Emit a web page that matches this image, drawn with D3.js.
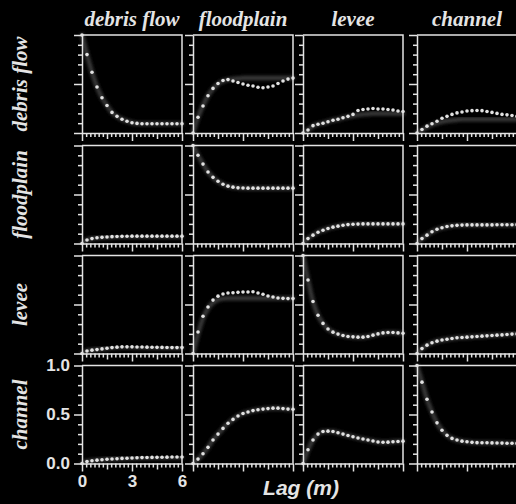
<!DOCTYPE html>
<html>
<head>
<meta charset="utf-8">
<script src="https://cdn.jsdelivr.net/npm/d3@7/dist/d3.min.js"></script>
<style>
    html, body { margin: 0; padding: 0; background: #000; }
    svg { display: block; }
</style>
</head>
<body>
<div class="container"></div>
<script>
const WIDTH = 516;
const HEIGHT = 504;
const PANEL_W = 100;
const PANEL_H = 98;
const COL_X = [82, 193, 303, 417];
const ROW_Y = [35, 145.5, 255.5, 365.5];
const INK = "#e4e4e4";

var facies = ["debris flow", "floodplain", "levee", "channel"];
var lags = [0, 0.3, 0.6, 0.9, 1.2, 1.5, 1.8, 2.1, 2.4, 2.7, 3.0, 3.3, 3.6, 3.9, 4.2, 4.5, 4.8, 5.1, 5.4, 5.7, 6.0];
var yMajor = [0, 0.5, 1];
var yMinor = [0.1, 0.2, 0.3, 0.4, 0.6, 0.7, 0.8, 0.9];
var xMajor = [0, 3, 6];
var xMedium = [1.5, 4.5];
var xMinor = [0.25, 0.5, 0.75, 1, 1.25, 1.75, 2, 2.25, 2.5, 2.75, 3.25, 3.5, 3.75, 4, 4.25, 4.75, 5, 5.25, 5.5, 5.75];

// rows = from facies, columns = to facies
var debrisDebris = [1.0, 0.80, 0.62, 0.47, 0.36, 0.28, 0.21, 0.17, 0.14, 0.12, 0.105, 0.098, 0.095, 0.095, 0.095, 0.095, 0.095, 0.095, 0.095, 0.095, 0.095];
var debrisFlood = [0, 0.16, 0.275, 0.38, 0.455, 0.505, 0.535, 0.545, 0.53, 0.515, 0.50, 0.487, 0.48, 0.467, 0.462, 0.47, 0.48, 0.505, 0.53, 0.55, 0.56];
var debrisLevee = [0, 0.03, 0.075, 0.09, 0.10, 0.115, 0.13, 0.14, 0.155, 0.17, 0.19, 0.23, 0.24, 0.245, 0.25, 0.245, 0.245, 0.24, 0.235, 0.225, 0.22];
var debrisChannel = [0, 0.035, 0.07, 0.095, 0.12, 0.15, 0.17, 0.19, 0.205, 0.215, 0.225, 0.228, 0.23, 0.228, 0.22, 0.21, 0.20, 0.19, 0.185, 0.178, 0.17];

var floodDebris = [0, 0.035, 0.05, 0.058, 0.063, 0.067, 0.07, 0.072, 0.073, 0.074, 0.075, 0.075, 0.075, 0.075, 0.075, 0.075, 0.075, 0.075, 0.075, 0.075, 0.075];
var floodFlood = [1.0, 0.90, 0.81, 0.73, 0.675, 0.635, 0.605, 0.585, 0.575, 0.568, 0.566, 0.565, 0.565, 0.565, 0.565, 0.565, 0.565, 0.565, 0.565, 0.565, 0.565];
var floodLevee = [0, 0.05, 0.085, 0.115, 0.135, 0.153, 0.167, 0.177, 0.186, 0.193, 0.197, 0.198, 0.2, 0.2, 0.2, 0.2, 0.2, 0.2, 0.2, 0.2, 0.2];
var floodChannel = [0, 0.05, 0.085, 0.12, 0.145, 0.16, 0.173, 0.18, 0.185, 0.188, 0.19, 0.19, 0.19, 0.19, 0.19, 0.19, 0.191, 0.191, 0.192, 0.192, 0.192];

var leveeDebris = [0, 0.025, 0.034, 0.04, 0.047, 0.054, 0.06, 0.065, 0.068, 0.068, 0.068, 0.067, 0.066, 0.065, 0.064, 0.063, 0.062, 0.061, 0.06, 0.06, 0.06];
var leveeFlood = [0, 0.22, 0.38, 0.475, 0.545, 0.585, 0.607, 0.617, 0.62, 0.624, 0.627, 0.628, 0.63, 0.618, 0.604, 0.587, 0.577, 0.567, 0.563, 0.56, 0.56];
var leveeLevee = [1.0, 0.75, 0.53, 0.39, 0.307, 0.25, 0.218, 0.198, 0.184, 0.174, 0.17, 0.167, 0.167, 0.174, 0.187, 0.20, 0.21, 0.214, 0.214, 0.21, 0.207];
var leveeChannel = [0, 0.05, 0.085, 0.11, 0.126, 0.137, 0.146, 0.153, 0.16, 0.164, 0.167, 0.17, 0.174, 0.177, 0.18, 0.184, 0.187, 0.19, 0.194, 0.198, 0.20];

var channelDebris = [0, 0.02, 0.028, 0.034, 0.039, 0.043, 0.046, 0.049, 0.052, 0.054, 0.056, 0.058, 0.06, 0.061, 0.062, 0.063, 0.064, 0.065, 0.066, 0.066, 0.067];
var channelFlood = [0, 0.045, 0.10, 0.165, 0.24, 0.30, 0.358, 0.41, 0.45, 0.485, 0.51, 0.525, 0.54, 0.548, 0.555, 0.56, 0.565, 0.565, 0.56, 0.555, 0.553];
var channelLevee = [0, 0.14, 0.24, 0.30, 0.327, 0.33, 0.327, 0.314, 0.30, 0.286, 0.273, 0.26, 0.25, 0.24, 0.23, 0.22, 0.217, 0.218, 0.222, 0.225, 0.228];
var channelChannel = [1.0, 0.83, 0.655, 0.525, 0.415, 0.34, 0.287, 0.256, 0.24, 0.228, 0.222, 0.216, 0.213, 0.212, 0.211, 0.21, 0.209, 0.208, 0.207, 0.206, 0.205];

// grey model curves, where they part from the dots
var bandDebrisFlood = [0, 0.16, 0.28, 0.38, 0.45, 0.50, 0.53, 0.545, 0.55, 0.555, 0.56, 0.56, 0.56, 0.56, 0.56, 0.56, 0.56, 0.56, 0.56, 0.56, 0.56];
var bandDebrisLevee = [0, 0.03, 0.07, 0.09, 0.10, 0.115, 0.13, 0.14, 0.155, 0.165, 0.175, 0.185, 0.19, 0.195, 0.2, 0.2, 0.2, 0.2, 0.2, 0.2, 0.2];
var bandDebrisChannel = [0, 0.03, 0.06, 0.085, 0.10, 0.115, 0.125, 0.13, 0.135, 0.14, 0.14, 0.14, 0.14, 0.14, 0.14, 0.14, 0.14, 0.14, 0.14, 0.14, 0.14];
var bandLeveeFlood = [0, 0.2, 0.36, 0.46, 0.52, 0.55, 0.56, 0.565, 0.565, 0.565, 0.565, 0.565, 0.565, 0.565, 0.565, 0.565, 0.565, 0.565, 0.565, 0.565, 0.565];

var dots = [
    [debrisDebris, debrisFlood, debrisLevee, debrisChannel],
    [floodDebris, floodFlood, floodLevee, floodChannel],
    [leveeDebris, leveeFlood, leveeLevee, leveeChannel],
    [channelDebris, channelFlood, channelLevee, channelChannel]
];
var bands = [
    [debrisDebris, bandDebrisFlood, bandDebrisLevee, bandDebrisChannel],
    [floodDebris, floodFlood, floodLevee, floodChannel],
    [leveeDebris, bandLeveeFlood, leveeLevee, leveeChannel],
    [channelDebris, channelFlood, channelLevee, channelChannel]
];

var translate = function (x, y) {
    return "translate(" + x + "," + y + ")";
};

var _xScale = d3.scaleLinear().domain([0, 6]).range([0, PANEL_W]);
var _yScale = d3.scaleLinear().domain([0, 1]).range([PANEL_H, 0]);

var line = d3.line()
    .x(function (d, k) { return _xScale(lags[k]); })
    .y(function (d) { return _yScale(d); })
    .curve(d3.curveMonotoneX);

function styleAxis(g) {
    g.attr("color", INK);
    g.selectAll("line, path").attr("stroke-width", 1.5);
    g.selectAll("text")
        .attr("font-family", "'Liberation Sans', Arial, sans-serif")
        .attr("font-weight", "bold")
        .attr("font-size", 17)
        .attr("fill", INK);
}

function drawAxes(panel, labelled) {
    var left = panel.append("g");
    left.call(d3.axisLeft(_yScale).tickValues(yMinor).tickSize(4).tickSizeOuter(0).tickFormat(""));
    left.append("g").call(d3.axisLeft(_yScale).tickValues(yMajor).tickSize(8).tickPadding(4)
        .tickFormat(labelled ? d3.format(".1f") : ""))
        .call(function (g) { g.select(".domain").remove(); });
    styleAxis(left);

    var bottom = panel.append("g").attr("transform", translate(0, PANEL_H));
    bottom.call(d3.axisBottom(_xScale).tickValues(xMinor).tickSize(4).tickSizeOuter(0).tickFormat(""));
    bottom.append("g").call(d3.axisBottom(_xScale).tickValues(xMedium).tickSize(6).tickFormat(""))
        .call(function (g) { g.select(".domain").remove(); });
    bottom.append("g").call(d3.axisBottom(_xScale).tickValues(xMajor).tickSize(8).tickPadding(3)
        .tickFormat(labelled ? d3.format("d") : ""))
        .call(function (g) { g.select(".domain").remove(); });
    styleAxis(bottom);

    // frame: top and right edges
    panel.append("path")
        .attr("d", "M" + _xScale(0) + "," + _yScale(1) + "H" + _xScale(6) + "V" + _yScale(0))
        .attr("fill", "none")
        .attr("stroke", INK)
        .attr("stroke-width", 1.5);
}

var loadChart = function () {
    var svg = d3.select(".container").append("svg")
        .attr("width", WIDTH)
        .attr("height", HEIGHT)
        .style("background", "#000");

    svg.append("defs").append("filter")
        .attr("id", "soft")
        .attr("x", "-10%").attr("y", "-10%").attr("width", "120%").attr("height", "120%")
        .append("feGaussianBlur").attr("stdDeviation", 1.4);

    var serif = "'Liberation Serif', 'Times New Roman', serif";

    // column titles
    svg.selectAll(".col-title")
        .data(facies)
        .enter().append("text")
        .attr("class", "col-title")
        .attr("x", function (d, j) { return COL_X[j] + PANEL_W / 2; })
        .attr("y", 26)
        .attr("text-anchor", "middle")
        .attr("font-family", serif)
        .attr("font-style", "italic")
        .attr("font-weight", "bold")
        .attr("font-size", 21)
        .attr("fill", INK)
        .text(function (d) { return d; });

    // row titles
    svg.selectAll(".row-title")
        .data(facies)
        .enter().append("text")
        .attr("class", "row-title")
        .attr("transform", function (d, i) {
            return translate(27, ROW_Y[i] + PANEL_H / 2) + " rotate(-90)";
        })
        .attr("text-anchor", "middle")
        .attr("font-family", serif)
        .attr("font-style", "italic")
        .attr("font-weight", "bold")
        .attr("font-size", 21)
        .attr("fill", INK)
        .text(function (d) { return d; });

    for (var i = 0; i < 4; i++) {
        for (var j = 0; j < 4; j++) {
            var panel = svg.append("g")
                .attr("class", "panel")
                .attr("transform", translate(COL_X[j], ROW_Y[i]));

            panel.append("path")
                .datum(bands[i][j])
                .attr("d", line)
                .attr("fill", "none")
                .attr("stroke", "#383838")
                .attr("stroke-width", 4.5)
                .attr("stroke-linecap", "round")
                .attr("filter", "url(#soft)");

            drawAxes(panel, i === 3 && j === 0);

            panel.selectAll(".dot")
                .data(dots[i][j])
                .enter().append("circle")
                .attr("class", "dot")
                .attr("cx", function (d, k) { return _xScale(lags[k]); })
                .attr("cy", function (d) { return _yScale(d); })
                .attr("r", 1.8)
                .attr("fill", "#e2e2e2");
        }
    }

    svg.append("text")
        .attr("x", 301)
        .attr("y", 495)
        .attr("text-anchor", "middle")
        .attr("font-family", "'Liberation Sans', Arial, sans-serif")
        .attr("font-style", "italic")
        .attr("font-weight", "bold")
        .attr("font-size", 21)
        .attr("fill", INK)
        .text("Lag (m)");
};

window.onload = loadChart;
</script>
</body>
</html>
